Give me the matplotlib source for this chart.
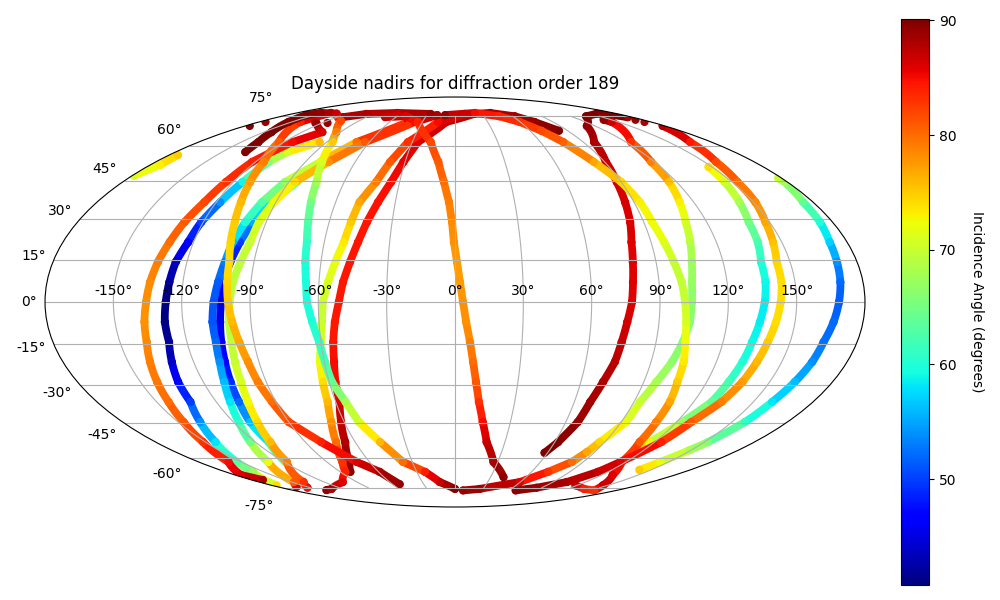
import numpy as np
import matplotlib
matplotlib.use("Agg")
import matplotlib.pyplot as plt
from matplotlib.collections import LineCollection
from matplotlib.colors import Normalize

# Values: longitude (deg), latitude (deg), incidence angle (deg)
far_lat = [46, 44.5, 36.5, 28.9, 21.5, 14.3, 7.1, 0, -7.1, -14.3, -21.5, -28.9, -36.5, -44.5, -52.8, -56.3, -61.7, -65.5]
far_lon = [178, 178.5, 175, 174, 172, 171, 170, 168.6, 167, 165, 164, 162, 159.5, 157, 152, 149, 144, 141]
far_inc = [70, 68, 64, 60, 57, 54, 52, 51.5, 52, 52.5, 54, 56, 58, 61, 66, 68, 72, 75]

wrap_lat = [47, 51.5, 55.8]
wrap_lon = [-179, -174, -174.5]
wrap_inc = [71, 73, 75]

cyanr_lat = [50.7, 44.5, 36.5, 28.9, 21.5, 14.3, 7.1, 0, -7.1, -14.3, -21.5, -28.9, -36.5, -44.5, -52.8, -57.1]
cyanr_lon = [148, 146, 143, 140, 139, 137, 137, 136, 134.5, 133, 132, 130.5, 129, 123, 117, 114.6]
cyanr_inc = [74, 71, 68, 65, 62.5, 60, 59, 58.5, 58.5, 59, 60, 62, 64, 67, 72, 76]

darkr_lat = [74.5, 75.7, 76.6, 75, 69.7, 61.7, 52.8, 44.5, 36.5, 28.9, 21.5, 14.3, 7.1, 0, -7.1, -14.3, -21.5, -28.9, -36.5, -44.5, -52.8, -57.5]
darkr_lon = [175, 170, 158, 136, 113, 97.6, 90.7, 87.6, 85.5, 83.5, 81, 79.6, 78.5, 77.7, 76, 74.6, 73.4, 70.6, 68, 66.5, 62, 58]
darkr_inc = [90, 90, 90, 90, 89, 88, 87, 86.5, 86.3, 86.2, 86, 86, 86, 86, 86.5, 87, 87.5, 88, 88.5, 89, 90, 90]

green_lat = [73, 71.8, 61.7, 52.8, 44.5, 36.5, 28.9, 21.5, 14.3, 7.1, 0, -7.1, -14.3, -21.5, -28.9, -36.5, -44.5, -52.8, -57.1, -61.7, -66.5, -71.8, -75.7, -76.6]
green_lon = [142.5, 144, 123.6, 118, 116, 113, 110, 108, 106, 104.5, 104, 103.6, 102, 99.6, 96, 93, 92.5, 87, 85, 82, 73, 59.5, 26.5, 9]
green_inc = [89, 87, 83, 79, 75.5, 73, 71, 69, 67.5, 67, 66.5, 66, 66, 66.5, 68, 70, 72, 74.5, 77, 80, 83, 86, 88.5, 89]

yel_lat = [75.7, 77, 75, 71.8, 67.2, 61.7, 52.8, 44.5, 36.5, 28.9, 21.5, 14.3, 7.1, 0, -7.1, -14.3, -21.5, -28.9, -36.5, -44.5, -52.8, -61.7, -68.1, -73.6, -76.6, -75.7, -73.6]
yel_lon = [-10.6, 22.6, 46, 59.5, 69, 76, 83.5, 90, 93, 94, 96, 98, 100, 101, 102, 103, 105, 106, 108, 109, 111, 117, 129, 145, 155, 138, 118]
yel_inc = [89, 85, 84, 83, 82, 80.5, 77, 74.5, 73, 72.5, 71.5, 70, 69.5, 70, 71, 72.5, 73.5, 75, 77, 79, 81, 84, 86, 87, 83, 84, 87]

gold_lat = [69.7, 61.7, 52.8, 44.5, 36.5, 28.9, 21.5, 14.3, 7.1, 0, -7.1, -14.3, -21.5, -28.9, -36.5, -44.5, -52.8, -61.7, -66.5, -71.8, -75, -76.6]
gold_lon = [178, 165, 157, 153, 151, 148, 146, 144, 144, 143, 141.6, 140, 138.6, 137, 134, 128, 124, 116, 112, 102.6, 84.5, 67.6]
gold_inc = [88, 84.5, 82, 80, 78.5, 77, 75.5, 74.5, 74, 74, 74, 75, 76, 77.5, 79, 81, 84, 86, 87, 88, 89, 89.5]

red_lat = [-66.5, -61.7, -52.8, -44.5, -36.5, -28.9, -21.5, -14.3, -7.1, 0, 7.1, 14.3, 21.5, 28.9, 36.5, 44.5, 52.8, 61.7, 71.8, 76.4, 77, 75, 71.8, 67.2]
red_lon = [-82, -74, -66, -61.7, -58, -57, -55.5, -54.5, -53, -51, -49.4, -47, -44.5, -42, -38.7, -34.6, -31, -26, -8, 21, 40, 62, 73, 83]
red_inc = [89.5, 89, 88, 87, 86, 85, 85, 84.5, 84.5, 84.5, 84.5, 84.5, 84.5, 84.5, 84.7, 85, 85.5, 86, 87, 88, 88, 88.5, 89, 90]

olive_lat = [-76.4, -75.7, -71.8, -66.5, -61.7, -52.8, -44.5, -36.5, -28.9, -21.5, -14.3, -7.1, 0, 7.1, 14.3, 21.5, 28.9, 36.5, 44.5, 52.8, 61.7, 71.8, 76.4]
olive_lon = [-142, -132, -103, -86, -79, -71.5, -67, -64, -63, -62, -60, -58.7, -58, -56, -53.6, -51, -49.6, -48, -42.7, -39, -33, -15.6, 10.7]
olive_inc = [89, 88, 86, 84, 83, 80, 78, 76, 74, 72, 71, 70, 70, 71, 72, 73.5, 75, 77, 79, 81, 83, 85, 87]

deep_lat = [-61.7, -52.8, -44.5, -36.5, -28.9, -21.5, -14.3, -7.1, 0, 7.1, 14.3, 21.5, 28.9, 36.5, 44.5]
deep_lon = [-119, -112, -111, -108.6, -107, -105.6, -104.6, -103.6, -102.7, -102, -100.6, -98.7, -96.4, -92, -85.5]
deep_inc = [66, 60, 56, 52, 49, 47, 46, 45.5, 45, 45.5, 47, 50, 55, 60, 66]

azure_lat = [-74.5, -71.8, -61.7, -52.8, -44.5, -36.5, -28.9, -21.5, -14.3, -7.1, 0, 7.1, 14.3, 21.5, 28.9, 36.5, 44.5, 52.8, 61.7, 71.8, 75.7]
azure_lon = [-161, -148, -131, -123, -117, -113, -110, -108, -107, -107, -106, -104.5, -103, -102, -100, -97, -92, -81, -69, -43, -24]
azure_inc = [86, 81, 72, 65, 61, 58, 56, 54, 52, 51, 51, 51.5, 53, 56, 60, 63, 67, 72, 80, 86, 89]

navy_lat = [-73.6, -66.5, -61.7, -52.8, -44.5, -36.5, -28.9, -21.5, -14.3, -7.1, 0, 7.1, 14.3, 21.5, 28.9, 36.5, 44.5, 52.8, 57.1, 61.7]
navy_lon = [-175, -158.6, -153, -144, -138, -133, -132, -130, -128, -128, -127, -126, -125, -122.5, -121, -118, -115, -112, -108, -95]
navy_inc = [74, 67, 63, 58, 54, 50, 47, 44, 42, 41, 41, 42, 44, 47, 50, 54, 59, 66, 71, 76]

amber_lat = [-70.7, -68.1, -61.7, -52.8, -44.5, -36.5, -28.9, -21.5, -14.3, -7.1, 0, 7.1, 14.3, 21.5, 28.9, 36.5, 44.5, 52.8, 61.7, 66.5, 71.3]
amber_lon = [-170, -175, -159, -151.5, -147, -144, -142, -140, -138, -137, -135.6, -134.5, -133, -131, -129, -126, -124, -122, -114, -104, -125]
amber_inc = [88, 86, 85, 83, 81, 80, 79.5, 79, 78.5, 78, 78, 78.5, 79, 80, 81, 82, 83, 84, 85, 86, 89]

lime_lat = [-75, -71.8, -61.7, -52.8, -44.5, -36.5, -28.9, -21.5, -14.3, -7.1, 0, 7.1, 14.3, 21.5, 28.9, 36.5, 44.5, 52.8, 61.7, 71.8, 75.7]
lime_lon = [-153, -139, -118, -111, -107, -104, -102, -101, -100, -99.7, -99, -98, -96, -94, -93.5, -91, -86.6, -76, -63, -37, -19]
lime_inc = [85, 83, 79, 76, 74, 72.5, 71, 70, 69.5, 69, 69, 69, 69.5, 70, 71, 72, 74, 78, 81, 85, 88]

orange_lat = [77, 71.8, 61.7, 52.8, 44.5, 36.5, 28.9, 21.5, 14.3, 7.1, 0, -7.1, -14.3, -21.5, -28.9, -36.5, -44.5, -52.8, -61.7, -66.5, -73]
orange_lon = [-141, -142, -123.6, -115, -111, -107.6, -105, -103, -101, -100.5, -99.7, -98.3, -96.6, -95, -94, -92, -90, -80.5, -69, -59, -53]
orange_inc = [88, 84, 81, 79, 77.5, 76, 75, 74.5, 74, 74.5, 75, 76, 77, 78, 79, 80, 82, 84, 86, 88, 89]

cyan_lat = [57.1, 61.7, 66.5, 71.8, 75.7, 77, 76.6, 72.4, 66.5, 61.7, 52.8, 44.5, 36.5, 28.9, 21.5, 14.3, 7.1, 0, -7.1, -14.3, -21.5, -28.9, -36.5, -44.5, -52.8, -61.7, -66.5, -71.8, -75.7]
cyan_lon = [-135, -138, -144, -153, -159, -152, -132, -107, -93, -86, -80, -75, -72.4, -70, -68, -67, -65.7, -65, -63, -60.8, -59.7, -58.7, -55, -52, -45, -36.5, -23.5, -14, 0]
cyan_inc = [90, 90, 90, 90, 90, 89, 87, 82, 79, 75, 71, 68, 65, 63, 61, 60, 59.5, 59.5, 60, 61, 62, 64, 68, 71, 76, 80, 84, 87, 90]

crown_lat = [74.5, 76.4, 77, 76.4]
crown_lon = [-114, -98, -65.5, -27]
crown_inc = [88, 88, 87, 89]

mid_lat = [74.5, 75, 71.8, 61.7, 52.8, 44.5, 36.5, 28.9, 21.5, 14.3, 7.1, 0, -7.1, -14.3, -21.5, -28.9, -36.5, -44.5, -52.8, -61.7, -69.2]
mid_lon = [-71, -51, -34, -17, -10, -6, -3, -1.4, -0.5, 0.9, 2.2, 3.5, 4.9, 6.7, 8.3, 10, 12, 15, 19, 27, 41]
mid_inc = [87, 86, 84, 82, 81, 80, 79, 78.5, 78, 77.5, 77.5, 78, 78, 79, 80, 81, 83, 85, 87, 88, 89.5]

dots_lat = [69.7, 71.8, 74.5, 74.5, 73, 71.8, 71.3, 71.3]
dots_lon = [-176, -174, 151, 176, 173, 174, -126, -115]
dots_inc = [90, 89, 89, 88, 89, 88, 89, 89]

tracks = [
    (red_lon, red_lat, red_inc),
    (olive_lon, olive_lat, olive_inc),
    (deep_lon, deep_lat, deep_inc),
    (azure_lon, azure_lat, azure_inc),
    (navy_lon, navy_lat, navy_inc),
    (wrap_lon, wrap_lat, wrap_inc),
    (amber_lon, amber_lat, amber_inc),
    (lime_lon, lime_lat, lime_inc),
    (crown_lon, crown_lat, crown_inc),
    (orange_lon, orange_lat, orange_inc),
    (cyan_lon, cyan_lat, cyan_inc),
    (mid_lon, mid_lat, mid_inc),
    (far_lon, far_lat, far_inc),
    (cyanr_lon, cyanr_lat, cyanr_inc),
    (darkr_lon, darkr_lat, darkr_inc),
    (green_lon, green_lat, green_inc),
    (yel_lon, yel_lat, yel_inc),
    (gold_lon, gold_lat, gold_inc),
]

title = "Dayside nadirs for diffraction order 189"
cbar_label = "Incidence Angle (degrees)"
vmin, vmax = 40.77, 90.12

fig = plt.figure(figsize=(10, 6), dpi=100)
ax = fig.add_axes([0.045, 0.155, 0.82, 0.6833], projection="mollweide")
cax = fig.add_axes([0.901, 0.025, 0.028, 0.9433])
norm = Normalize(vmin, vmax)
cmap = plt.get_cmap("jet")

sc = None
for lon, lat, inc in tracks:
    x = np.radians(lon)
    y = np.radians(lat)
    c = np.asarray(inc, dtype=float)
    pts = np.column_stack([x, y])
    segs = np.stack([pts[:-1], pts[1:]], axis=1)
    lc = LineCollection(segs, cmap=cmap, norm=norm, array=(c[:-1] + c[1:]) / 2,
                        linewidths=5.6, capstyle="round", zorder=1)
    ax.add_collection(lc)
    sc = ax.scatter(x, y, c=c, cmap=cmap, norm=norm, s=24, zorder=1)

ax.scatter(np.radians(dots_lon), np.radians(dots_lat), c=dots_inc, cmap=cmap, norm=norm, s=24, zorder=1)

ax.grid(True)
ax.set_title(title, fontsize=12)
cb = fig.colorbar(sc, cax=cax)
cb.set_label(cbar_label, rotation=270, labelpad=20)
fig.savefig("out.png", dpi=100)
